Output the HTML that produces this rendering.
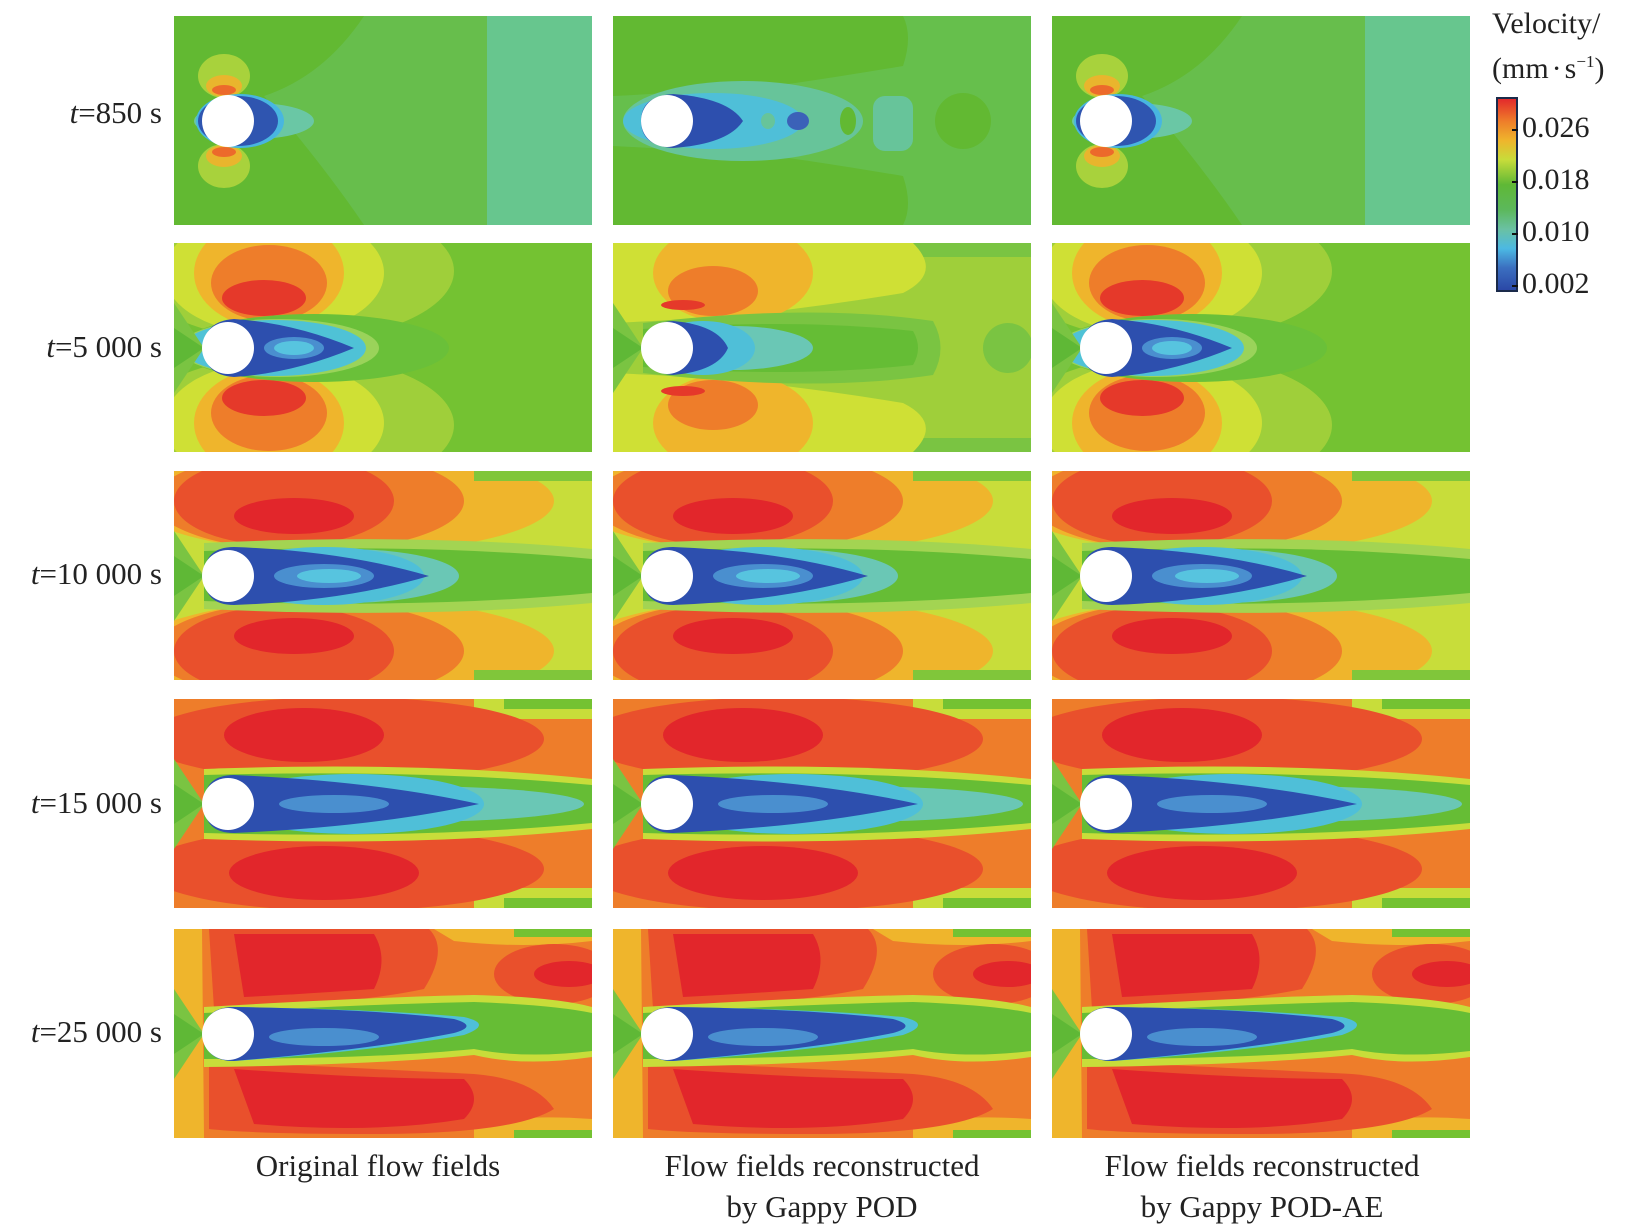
<!DOCTYPE html>
<html><head><meta charset="utf-8"><style>
html,body{margin:0;padding:0;background:#fff;}
body{width:1630px;height:1230px;position:relative;overflow:hidden;font-family:"Liberation Serif","DejaVu Serif",serif;color:#222;}
.lbl{position:absolute;right:1468px;font-size:31px;white-space:nowrap;}
.cap{position:absolute;font-size:31px;text-align:center;width:440px;line-height:41px;}
.tk{position:absolute;left:1522px;font-size:30px;}
</style></head><body>
<svg width="1630" height="1230" style="position:absolute;left:0;top:0">
<defs>
<clipPath id="cp"><rect width="418" height="209"/></clipPath>
<g id="wedge">
 <path d="M0 60L30 105L0 150Z" fill="#7ac442"/>
 <path d="M0 85L30 105L0 125Z" fill="#5fb836"/>
</g>
<g id="r0">
 <rect width="418" height="209" fill="#67be4c"/>
 <path d="M0 0H190Q150 60 90 80Q150 150 190 209H0Z" fill="#62b932"/>
 <rect x="313" width="105" height="209" fill="#67c68e"/>
 <ellipse cx="50" cy="60" rx="26" ry="22" fill="#a8d23c"/>
 <ellipse cx="50" cy="150" rx="26" ry="22" fill="#a8d23c"/>
 <ellipse cx="50" cy="70" rx="18" ry="11" fill="#e9b52d"/>
 <ellipse cx="50" cy="140" rx="18" ry="11" fill="#e9b52d"/>
 <ellipse cx="50" cy="74" rx="12" ry="5" fill="#ec6a2b"/>
 <ellipse cx="50" cy="136" rx="12" ry="5" fill="#ec6a2b"/>
 <ellipse cx="80" cy="105" rx="60" ry="18" fill="#6ac7a5"/>
 <ellipse cx="66" cy="105" rx="44" ry="27" fill="#48b6e0"/>
 <ellipse cx="64" cy="105" rx="40" ry="25" fill="#2f55b0"/>
</g>
<g id="r0b">
 <rect width="418" height="209" fill="#66bf4c"/>
 <path d="M0 0H290Q300 20 290 50Q200 65 160 70Q100 75 0 80Z" fill="#62b932"/>
 <path d="M0 209H290Q300 190 290 160Q200 145 160 140Q100 135 0 130Z" fill="#62b932"/>
 <ellipse cx="130" cy="105" rx="120" ry="40" fill="#67c49a"/>
 <rect x="260" y="80" width="40" height="55" rx="12" fill="#67c49a"/>
 <ellipse cx="235" cy="105" rx="8" ry="14" fill="#62b932"/>
 <circle cx="350" cy="105" r="28" fill="#62b932"/>
 <ellipse cx="100" cy="105" rx="90" ry="28" fill="#4fbfd8"/>
 <ellipse cx="155" cy="105" rx="7" ry="8" fill="#67c49a"/>
 <path d="M28 105Q28 80 60 78Q115 82 130 105Q115 128 60 132Q28 130 28 105Z" fill="#2d4fae"/>
 <ellipse cx="185" cy="105" rx="11" ry="9" fill="#3b62b8"/>
</g>
<g id="r1">
 <rect width="418" height="209" fill="#74c232"/>
 <ellipse cx="120" cy="28" rx="160" ry="70" fill="#9fcf3a"/>
 <ellipse cx="120" cy="182" rx="160" ry="70" fill="#9fcf3a"/>
 <ellipse cx="100" cy="30" rx="110" ry="62" fill="#cfe035"/>
 <ellipse cx="100" cy="180" rx="110" ry="62" fill="#cfe035"/>
 <ellipse cx="95" cy="30" rx="75" ry="55" fill="#efb52c"/>
 <ellipse cx="95" cy="180" rx="75" ry="55" fill="#efb52c"/>
 <ellipse cx="95" cy="40" rx="58" ry="38" fill="#ee7d2a"/>
 <ellipse cx="95" cy="170" rx="58" ry="38" fill="#ee7d2a"/>
 <ellipse cx="90" cy="55" rx="42" ry="18" fill="#e5392a"/>
 <ellipse cx="90" cy="155" rx="42" ry="18" fill="#e5392a"/>
 <ellipse cx="140" cy="105" rx="135" ry="34" fill="#6ac039"/>
 <ellipse cx="105" cy="105" rx="100" ry="29" fill="#9ad35a"/>
 <ellipse cx="100" cy="105" rx="92" ry="28" fill="#4fc2d6"/>
 <path d="M30 105Q30 78 60 76Q120 80 180 105Q120 130 60 134Q30 132 30 105Z" fill="#2d4fae"/>
 <ellipse cx="120" cy="105" rx="30" ry="11" fill="#4a8fcf"/>
 <ellipse cx="120" cy="105" rx="20" ry="7" fill="#57c4df"/>
 <use href="#wedge"/>
</g>
<g id="r1b">
 <rect width="418" height="209" fill="#9fcf3a"/>
 <rect x="0" y="0" width="418" height="14" fill="#7ac442"/>
 <rect x="0" y="195" width="418" height="14" fill="#7ac442"/>
 <path d="M0 0H300Q330 30 290 50Q200 65 100 75L0 80Z" fill="#cfe035"/>
 <path d="M0 209H300Q330 180 290 160Q200 145 100 135L0 130Z" fill="#cfe035"/>
 <ellipse cx="120" cy="30" rx="80" ry="50" fill="#efb52c"/>
 <ellipse cx="120" cy="180" rx="80" ry="50" fill="#efb52c"/>
 <ellipse cx="100" cy="48" rx="45" ry="25" fill="#ee7d2a"/>
 <ellipse cx="100" cy="162" rx="45" ry="25" fill="#ee7d2a"/>
 <ellipse cx="70" cy="62" rx="22" ry="5" fill="#e5392a"/>
 <ellipse cx="70" cy="148" rx="22" ry="5" fill="#e5392a"/>
 <path d="M30 80Q200 60 320 78Q335 105 320 132Q200 150 30 130Z" fill="#7ac442"/>
 <path d="M30 86Q180 75 300 88Q310 105 300 122Q180 135 30 124Z" fill="#65bd35"/>
 <circle cx="395" cy="105" r="25" fill="#7ac442"/>
 <ellipse cx="120" cy="105" rx="80" ry="22" fill="#6ac7b5"/>
 <ellipse cx="90" cy="105" rx="52" ry="27" fill="#4fbfd8"/>
 <path d="M30 105Q30 80 60 78Q105 82 115 105Q105 128 60 132Q30 130 30 105Z" fill="#2d4fae"/>
 <use href="#wedge"/>
</g>
<g id="r2">
 <rect width="418" height="209" fill="#c8dd3a"/>
 <ellipse cx="170" cy="30" rx="210" ry="52" fill="#efb52c"/>
 <ellipse cx="170" cy="180" rx="210" ry="52" fill="#efb52c"/>
 <ellipse cx="135" cy="30" rx="155" ry="50" fill="#ee7d2a"/>
 <ellipse cx="135" cy="180" rx="155" ry="50" fill="#ee7d2a"/>
 <ellipse cx="110" cy="30" rx="110" ry="45" fill="#e9502c"/>
 <ellipse cx="110" cy="180" rx="110" ry="45" fill="#e9502c"/>
 <ellipse cx="120" cy="45" rx="60" ry="18" fill="#e2262b"/>
 <ellipse cx="120" cy="165" rx="60" ry="18" fill="#e2262b"/>
 <rect x="300" y="0" width="118" height="10" fill="#80c63a"/>
 <rect x="300" y="199" width="118" height="10" fill="#80c63a"/>
 <path d="M30 72Q250 62 418 78V132Q250 148 30 138Z" fill="#a3d452"/>
 <path d="M30 80Q250 72 418 88V122Q250 138 30 130Z" fill="#66bd35"/>
 <ellipse cx="170" cy="105" rx="115" ry="27" fill="#6ac7b5"/>
 <ellipse cx="150" cy="105" rx="100" ry="29" fill="#4fbfd8"/>
 <path d="M30 105Q30 76 60 76Q170 80 255 105Q170 130 60 134Q30 134 30 105Z" fill="#2d4fae"/>
 <ellipse cx="150" cy="105" rx="50" ry="12" fill="#4a8fcf"/>
 <ellipse cx="155" cy="105" rx="32" ry="7" fill="#57c4df"/>
 <use href="#wedge"/>
</g>
<g id="r3">
 <rect width="418" height="209" fill="#ee7d2a"/>
 <rect x="300" y="0" width="118" height="20" fill="#c8dd3a"/>
 <rect x="330" y="0" width="88" height="10" fill="#74c232"/>
 <rect x="300" y="189" width="118" height="20" fill="#c8dd3a"/>
 <rect x="330" y="199" width="88" height="10" fill="#74c232"/>
 <ellipse cx="170" cy="40" rx="200" ry="42" fill="#e9502c"/>
 <ellipse cx="170" cy="170" rx="200" ry="42" fill="#e9502c"/>
 <ellipse cx="130" cy="36" rx="80" ry="27" fill="#e2262b"/>
 <ellipse cx="150" cy="174" rx="95" ry="27" fill="#e2262b"/>
 <path d="M30 70Q250 62 418 80V130Q250 148 30 140Z" fill="#c8dd3a"/>
 <path d="M30 76Q250 70 418 86V124Q250 140 30 134Z" fill="#66bd35"/>
 <ellipse cx="230" cy="105" rx="180" ry="18" fill="#6ac7b5"/>
 <ellipse cx="180" cy="105" rx="130" ry="30" fill="#4fbfd8"/>
 <path d="M30 105Q30 76 60 76Q200 82 305 105Q200 128 60 134Q30 134 30 105Z" fill="#2d4fae"/>
 <ellipse cx="160" cy="105" rx="55" ry="9" fill="#4a8fcf"/>
 <use href="#wedge"/>
</g>
<g id="r4">
 <rect width="418" height="209" fill="#ee7d2a"/>
 <path d="M0 0H28L30 209H0Z" fill="#efb52c"/>
 <path d="M260 0H418V12Q350 20 280 12Z" fill="#efb52c"/>
 <rect x="340" y="0" width="78" height="8" fill="#74c232"/>
 <path d="M300 209H418V190Q350 185 300 195Z" fill="#efb52c"/>
 <rect x="340" y="201" width="78" height="8" fill="#74c232"/>
 <path d="M35 0H255Q275 20 250 60Q180 75 40 80Z" fill="#e9502c"/>
 <path d="M60 5H200Q215 30 200 60Q130 65 70 68Z" fill="#e2262b"/>
 <ellipse cx="380" cy="45" rx="60" ry="30" fill="#e9502c"/>
 <ellipse cx="395" cy="45" rx="35" ry="13" fill="#e2262b"/>
 <path d="M35 132Q200 140 300 145Q360 150 380 180Q340 205 200 205Q80 205 35 200Z" fill="#e9502c"/>
 <path d="M60 140Q200 150 290 150Q310 170 290 190Q200 205 80 195Z" fill="#e2262b"/>
 <path d="M30 78Q200 68 300 66Q380 68 418 78V128Q350 138 300 126Q200 136 30 138Z" fill="#c8dd3a"/>
 <path d="M30 84Q200 75 300 73Q380 76 418 84V122Q350 130 300 120Q200 130 30 130Z" fill="#66bd35"/>
 <path d="M30 105Q30 80 60 78Q200 80 290 88Q320 95 290 106Q200 122 60 132Q30 132 30 105Z" fill="#4fbfd8"/>
 <path d="M30 105Q30 78 60 78Q200 80 280 90Q305 97 280 104Q200 120 60 132Q30 132 30 105Z" fill="#2d4fae"/>
 <ellipse cx="150" cy="108" rx="55" ry="9" fill="#4a8fcf"/>
 <use href="#wedge"/>
</g>
<linearGradient id="cb" x1="0" y1="1" x2="0" y2="0">
 <stop offset="0" stop-color="#2a46a5"/><stop offset="0.12" stop-color="#3b6fc0"/>
 <stop offset="0.22" stop-color="#4cb9e3"/><stop offset="0.32" stop-color="#6ac1a3"/>
 <stop offset="0.42" stop-color="#5cb85c"/><stop offset="0.55" stop-color="#5fb836"/>
 <stop offset="0.68" stop-color="#c7dc3a"/><stop offset="0.78" stop-color="#efb52c"/>
 <stop offset="0.88" stop-color="#ee7d2a"/><stop offset="1" stop-color="#e2262b"/>
</linearGradient>
</defs>
<g clip-path="url(#cp)" transform="translate(174,16)"><use href="#r0"/></g>
<g clip-path="url(#cp)" transform="translate(613,16)"><use href="#r0b"/></g>
<g clip-path="url(#cp)" transform="translate(1052,16)"><use href="#r0"/></g>
<g clip-path="url(#cp)" transform="translate(174,243)"><use href="#r1"/></g>
<g clip-path="url(#cp)" transform="translate(613,243)"><use href="#r1b"/></g>
<g clip-path="url(#cp)" transform="translate(1052,243)"><use href="#r1"/></g>
<g clip-path="url(#cp)" transform="translate(174,471)"><use href="#r2"/></g>
<g clip-path="url(#cp)" transform="translate(613,471)"><use href="#r2"/></g>
<g clip-path="url(#cp)" transform="translate(1052,471)"><use href="#r2"/></g>
<g clip-path="url(#cp)" transform="translate(174,699)"><use href="#r3"/></g>
<g clip-path="url(#cp)" transform="translate(613,699)"><use href="#r3"/></g>
<g clip-path="url(#cp)" transform="translate(1052,699)"><use href="#r3"/></g>
<g clip-path="url(#cp)" transform="translate(174,929)"><use href="#r4"/></g>
<g clip-path="url(#cp)" transform="translate(613,929)"><use href="#r4"/></g>
<g clip-path="url(#cp)" transform="translate(1052,929)"><use href="#r4"/></g>
<g fill="#fff">
<circle cx="228" cy="121" r="26"/><circle cx="667" cy="121" r="26"/><circle cx="1106" cy="121" r="26"/>
<circle cx="228" cy="348" r="26"/><circle cx="667" cy="348" r="26"/><circle cx="1106" cy="348" r="26"/>
<circle cx="228" cy="576" r="26"/><circle cx="667" cy="576" r="26"/><circle cx="1106" cy="576" r="26"/>
<circle cx="228" cy="804" r="26"/><circle cx="667" cy="804" r="26"/><circle cx="1106" cy="804" r="26"/>
<circle cx="228" cy="1034" r="26"/><circle cx="667" cy="1034" r="26"/><circle cx="1106" cy="1034" r="26"/>
</g>
<rect x="1497" y="98" width="20" height="193" fill="url(#cb)" stroke="#1a2a4a" stroke-width="2"/>
<g stroke="#111" stroke-width="2">
<line x1="1512" y1="130" x2="1518" y2="130"/><line x1="1512" y1="182" x2="1518" y2="182"/>
<line x1="1512" y1="234" x2="1518" y2="234"/><line x1="1512" y1="286" x2="1518" y2="286"/>
</g>
</svg>
<div style="position:absolute;left:1492px;top:6px;font-size:30px;line-height:36px;">Velocity/</div>
<div style="position:absolute;left:1492px;top:44px;font-size:30px;line-height:36px;">(mm<span style="padding:0 3px">·</span>s<sup style="font-size:17px">−1</sup>)</div>
<div class="tk" style="top:111px">0.026</div>
<div class="tk" style="top:163px">0.018</div>
<div class="tk" style="top:215px">0.010</div>
<div class="tk" style="top:267px">0.002</div>
<div class="lbl" style="top:95px"><i>t</i>=850 s</div>
<div class="lbl" style="top:329px"><i>t</i>=5 000 s</div>
<div class="lbl" style="top:556px"><i>t</i>=10 000 s</div>
<div class="lbl" style="top:785px"><i>t</i>=15 000 s</div>
<div class="lbl" style="top:1014px"><i>t</i>=25 000 s</div>
<div class="cap" style="left:158px;top:1145px">Original flow fields</div>
<div class="cap" style="left:602px;top:1145px">Flow fields reconstructed<br>by Gappy POD</div>
<div class="cap" style="left:1042px;top:1145px">Flow fields reconstructed<br>by Gappy POD-AE</div>
</body></html>
